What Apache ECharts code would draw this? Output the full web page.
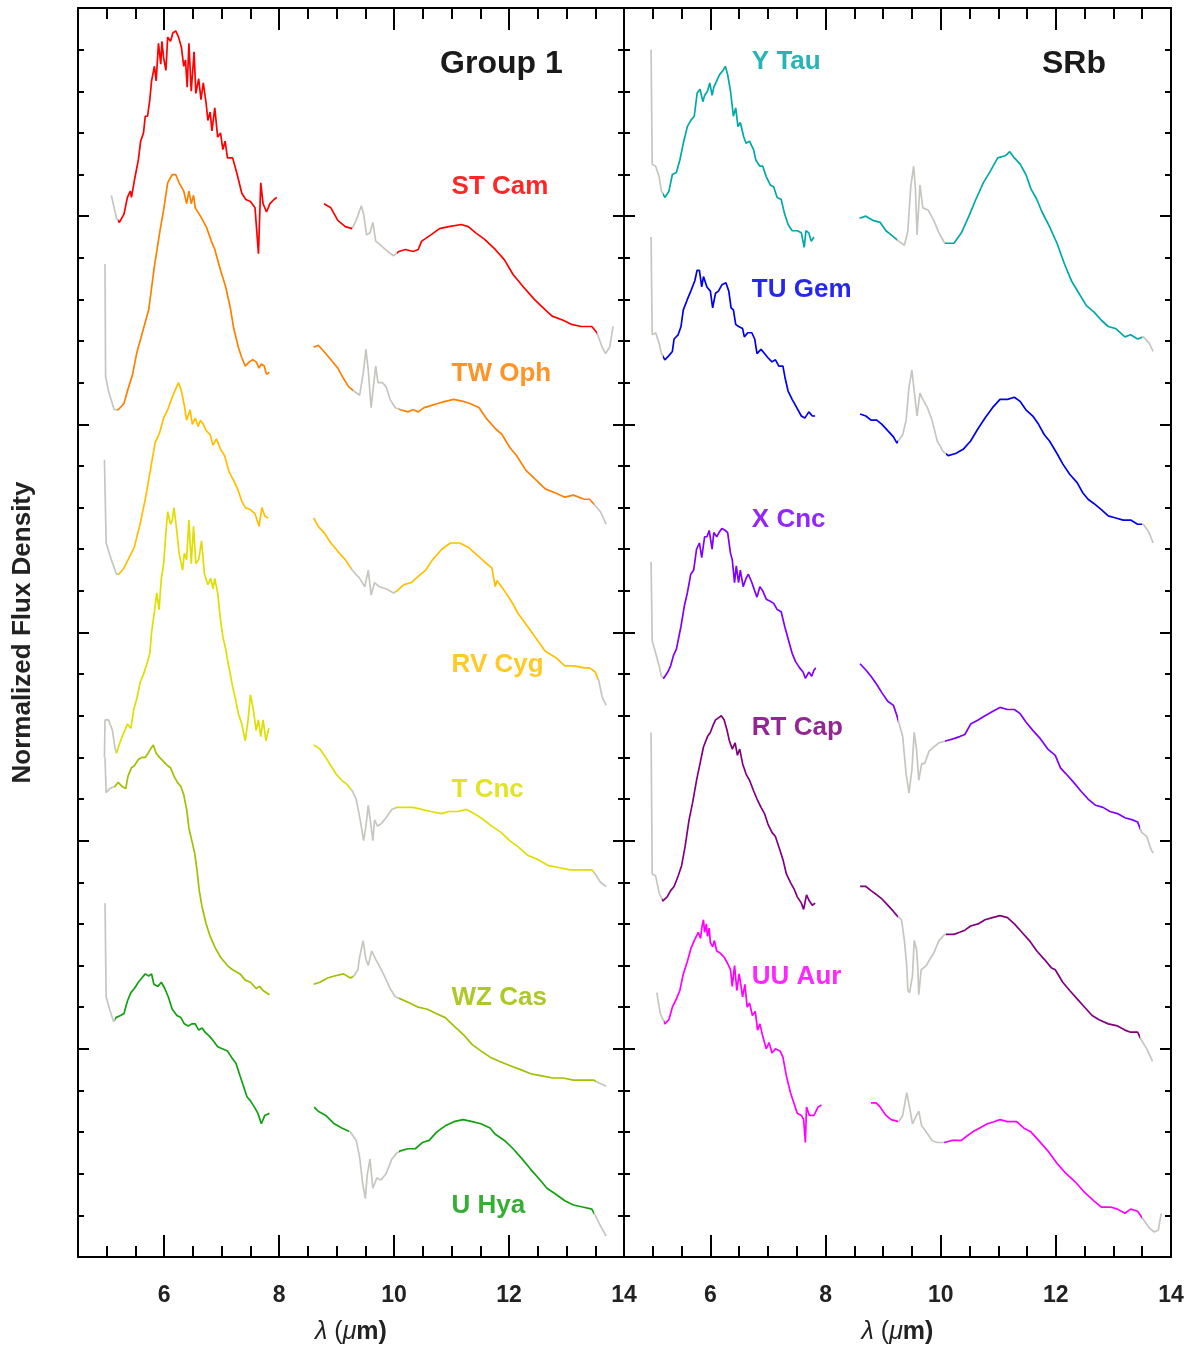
<!DOCTYPE html>
<html>
<head>
<meta charset="utf-8">
<title>Spectra Group 1 / SRb</title>
<script src="https://cdn.jsdelivr.net/npm/echarts@6/dist/echarts.min.js"></script>
<style>
  html, body { margin: 0; padding: 0; background: #fff; }
  #chart { width: 1192px; height: 1353px; }
</style>
</head>
<body>
<div id="chart"></div>
<script>
// wavelength (um), normalized flux (offset per star, 1 unit = 1 major tick)
const stCamShort = [[5.08,5.10],[5.17,4.99],[5.22,4.97],[5.30,5.01],[5.36,5.09],[5.41,5.12],[5.43,5.09],[5.48,5.17],[5.55,5.27],[5.59,5.36],[5.64,5.40],[5.67,5.48],[5.71,5.48],[5.75,5.56],[5.78,5.65],[5.83,5.72],[5.86,5.65],[5.90,5.83],[5.94,5.73],[5.96,5.84],[5.99,5.76],[6.03,5.70],[6.06,5.86],[6.11,5.84],[6.15,5.88],[6.20,5.89],[6.25,5.86],[6.30,5.81],[6.34,5.72],[6.37,5.75],[6.40,5.62],[6.43,5.83],[6.47,5.60],[6.52,5.79],[6.55,5.59],[6.60,5.66],[6.64,5.56],[6.68,5.64],[6.73,5.54],[6.76,5.46],[6.80,5.50],[6.83,5.41],[6.88,5.52],[6.93,5.38],[6.98,5.40],[7.02,5.32],[7.06,5.36],[7.10,5.28],[7.19,5.28],[7.27,5.20],[7.35,5.11],[7.42,5.08],[7.50,5.07],[7.58,5.04],[7.64,4.82],[7.68,5.16],[7.72,5.06],[7.78,5.02],[7.84,5.06],[7.91,5.08],[7.96,5.09]];
const stCamLong = [[8.78,5.06],[8.90,5.04],[9.02,4.98],[9.15,4.95],[9.27,4.94],[9.34,4.98],[9.43,5.05],[9.47,5.01],[9.52,4.91],[9.58,4.92],[9.63,4.97],[9.68,4.88],[9.77,4.86],[9.89,4.83],[9.99,4.81],[10.08,4.83],[10.20,4.84],[10.33,4.83],[10.42,4.84],[10.48,4.88],[10.64,4.91],[10.79,4.94],[10.95,4.95],[11.17,4.96],[11.29,4.95],[11.42,4.92],[11.57,4.89],[11.76,4.84],[11.92,4.79],[12.07,4.72],[12.25,4.66],[12.44,4.60],[12.63,4.55],[12.75,4.52],[12.94,4.50],[13.09,4.48],[13.25,4.47],[13.44,4.47],[13.53,4.44],[13.62,4.37],[13.68,4.34],[13.75,4.37],[13.81,4.47]];

const twOphShort = [[4.97,4.77],[4.98,4.23],[5.03,4.16],[5.13,4.07],[5.20,4.07],[5.30,4.10],[5.36,4.16],[5.45,4.24],[5.52,4.34],[5.58,4.40],[5.64,4.46],[5.73,4.55],[5.83,4.76],[5.92,4.92],[5.99,5.03],[6.06,5.16],[6.14,5.20],[6.20,5.20],[6.26,5.16],[6.34,5.12],[6.39,5.06],[6.43,5.12],[6.47,5.06],[6.51,5.10],[6.54,5.04],[6.63,5.00],[6.73,4.95],[6.82,4.88],[6.88,4.84],[6.98,4.74],[7.07,4.66],[7.15,4.56],[7.21,4.46],[7.29,4.37],[7.35,4.32],[7.41,4.28],[7.48,4.30],[7.54,4.31],[7.60,4.30],[7.65,4.27],[7.69,4.29],[7.74,4.28],[7.78,4.24],[7.83,4.25]];
const twOphLong = [[8.60,4.37],[8.68,4.38],[8.78,4.35],[8.90,4.31],[9.02,4.27],[9.12,4.22],[9.21,4.18],[9.30,4.16],[9.40,4.14],[9.46,4.24],[9.51,4.36],[9.55,4.26],[9.60,4.08],[9.68,4.28],[9.72,4.20],[9.80,4.20],[9.86,4.18],[9.93,4.12],[10.02,4.08],[10.11,4.07],[10.24,4.06],[10.33,4.07],[10.42,4.06],[10.52,4.08],[10.64,4.09],[10.76,4.10],[10.89,4.11],[11.04,4.12],[11.20,4.11],[11.32,4.10],[11.48,4.08],[11.60,4.03],[11.76,3.98],[11.88,3.95],[12.01,3.89],[12.13,3.85],[12.29,3.78],[12.44,3.74],[12.63,3.69],[12.81,3.67],[12.97,3.65],[13.12,3.66],[13.31,3.64],[13.40,3.64],[13.50,3.61],[13.59,3.58],[13.69,3.52]];

const rvCygShort = [[4.96,3.83],[4.99,3.43],[5.08,3.35],[5.17,3.28],[5.21,3.28],[5.30,3.31],[5.39,3.36],[5.48,3.41],[5.58,3.52],[5.67,3.64],[5.76,3.78],[5.84,3.91],[5.92,3.96],[5.99,4.03],[6.06,4.07],[6.14,4.13],[6.20,4.17],[6.25,4.20],[6.30,4.16],[6.35,4.09],[6.39,4.02],[6.45,4.07],[6.49,4.00],[6.54,4.03],[6.59,3.99],[6.63,4.02],[6.68,4.00],[6.73,3.97],[6.80,3.95],[6.85,3.90],[6.91,3.93],[6.98,3.88],[7.05,3.85],[7.13,3.77],[7.21,3.73],[7.29,3.68],[7.35,3.63],[7.41,3.60],[7.50,3.59],[7.58,3.57],[7.65,3.51],[7.70,3.60],[7.75,3.56],[7.81,3.55]];
const rvCygLong = [[8.60,3.55],[8.68,3.51],[8.78,3.48],[8.90,3.43],[9.02,3.39],[9.15,3.35],[9.27,3.30],[9.40,3.26],[9.49,3.22],[9.55,3.30],[9.60,3.18],[9.66,3.24],[9.74,3.22],[9.86,3.21],[9.99,3.19],[10.05,3.20],[10.17,3.23],[10.30,3.24],[10.42,3.27],[10.55,3.30],[10.67,3.35],[10.83,3.40],[10.98,3.43],[11.14,3.43],[11.29,3.41],[11.45,3.37],[11.57,3.34],[11.70,3.31],[11.76,3.22],[11.79,3.25],[11.92,3.20],[12.04,3.15],[12.16,3.09],[12.32,3.03],[12.50,2.96],[12.63,2.91],[12.81,2.88],[12.97,2.84],[13.12,2.84],[13.31,2.83],[13.40,2.83],[13.50,2.81],[13.56,2.77],[13.62,2.69],[13.69,2.65]];

const tCncShort = [[4.96,2.40],[4.97,2.58],[5.03,2.58],[5.10,2.53],[5.14,2.45],[5.17,2.42],[5.24,2.48],[5.30,2.52],[5.36,2.56],[5.42,2.54],[5.47,2.63],[5.53,2.69],[5.58,2.76],[5.64,2.80],[5.70,2.85],[5.75,2.90],[5.78,3.00],[5.83,3.10],[5.87,3.19],[5.91,3.11],[5.95,3.26],[5.99,3.33],[6.03,3.48],[6.06,3.58],[6.11,3.52],[6.14,3.54],[6.17,3.60],[6.21,3.51],[6.26,3.38],[6.32,3.30],[6.35,3.38],[6.39,3.35],[6.43,3.54],[6.47,3.33],[6.51,3.51],[6.55,3.33],[6.60,3.35],[6.65,3.44],[6.70,3.28],[6.76,3.23],[6.81,3.26],[6.85,3.21],[6.88,3.26],[6.93,3.19],[6.98,3.06],[7.02,2.98],[7.07,2.92],[7.10,2.87],[7.15,2.80],[7.19,2.74],[7.24,2.68],[7.29,2.61],[7.35,2.56],[7.41,2.48],[7.46,2.58],[7.50,2.70],[7.55,2.63],[7.60,2.53],[7.64,2.58],[7.68,2.50],[7.72,2.58],[7.77,2.48],[7.82,2.54]];
const tCncLong = [[8.60,2.46],[8.71,2.44],[8.81,2.40],[8.90,2.36],[8.99,2.32],[9.09,2.29],[9.18,2.27],[9.27,2.24],[9.34,2.20],[9.41,2.10],[9.47,2.00],[9.51,2.07],[9.55,2.17],[9.60,2.07],[9.63,2.00],[9.66,2.10],[9.71,2.07],[9.77,2.08],[9.86,2.11],[9.96,2.15],[10.05,2.16],[10.17,2.16],[10.33,2.16],[10.48,2.15],[10.64,2.14],[10.83,2.13],[10.95,2.14],[11.11,2.14],[11.26,2.15],[11.39,2.13],[11.51,2.11],[11.70,2.07],[11.86,2.04],[12.01,2.00],[12.16,1.97],[12.32,1.93],[12.50,1.91],[12.69,1.88],[12.88,1.87],[13.06,1.86],[13.25,1.86],[13.44,1.86],[13.50,1.84],[13.59,1.80],[13.69,1.78]];

const wzCasShort = [[4.97,2.40],[4.99,2.23],[5.05,2.25],[5.14,2.26],[5.20,2.28],[5.27,2.26],[5.33,2.25],[5.37,2.31],[5.43,2.35],[5.48,2.36],[5.55,2.39],[5.61,2.40],[5.67,2.40],[5.72,2.42],[5.76,2.44],[5.81,2.46],[5.86,2.42],[5.92,2.40],[5.99,2.38],[6.06,2.36],[6.11,2.35],[6.17,2.31],[6.23,2.28],[6.29,2.26],[6.34,2.22],[6.39,2.15],[6.43,2.06],[6.48,2.00],[6.53,1.94],[6.57,1.86],[6.61,1.76],[6.66,1.68],[6.73,1.60],[6.80,1.54],[6.88,1.49],[6.98,1.44],[7.10,1.40],[7.19,1.38],[7.32,1.36],[7.41,1.33],[7.50,1.32],[7.60,1.29],[7.66,1.30],[7.72,1.28],[7.83,1.26]];
const wzCasLong = [[8.60,1.31],[8.71,1.32],[8.84,1.34],[8.96,1.35],[9.12,1.36],[9.24,1.34],[9.30,1.35],[9.37,1.38],[9.40,1.44],[9.46,1.52],[9.51,1.43],[9.55,1.40],[9.61,1.47],[9.68,1.43],[9.74,1.40],[9.83,1.35],[9.93,1.29],[10.02,1.25],[10.11,1.24],[10.27,1.22],[10.42,1.20],[10.58,1.19],[10.73,1.17],[10.89,1.15],[11.04,1.11],[11.20,1.07],[11.36,1.02],[11.51,0.99],[11.67,0.96],[11.83,0.94],[12.01,0.92],[12.20,0.90],[12.38,0.88],[12.57,0.87],[12.76,0.86],[12.94,0.86],[13.12,0.85],[13.31,0.85],[13.47,0.85],[13.53,0.84],[13.62,0.83],[13.69,0.82]];

const uHyaShort = [[4.97,1.70],[4.99,1.25],[5.05,1.19],[5.12,1.13],[5.16,1.15],[5.24,1.16],[5.30,1.17],[5.36,1.23],[5.42,1.27],[5.48,1.29],[5.55,1.32],[5.61,1.34],[5.67,1.36],[5.73,1.35],[5.78,1.36],[5.82,1.31],[5.89,1.30],[5.95,1.32],[6.01,1.29],[6.07,1.25],[6.14,1.19],[6.22,1.16],[6.29,1.15],[6.35,1.12],[6.42,1.11],[6.48,1.12],[6.54,1.12],[6.60,1.09],[6.66,1.10],[6.71,1.08],[6.79,1.06],[6.85,1.04],[6.93,1.01],[7.01,1.00],[7.10,0.99],[7.17,0.96],[7.25,0.93],[7.32,0.87],[7.38,0.82],[7.44,0.77],[7.50,0.75],[7.57,0.72],[7.63,0.69],[7.69,0.64],[7.75,0.68],[7.83,0.69]];
const uHyaLong = [[8.61,0.72],[8.68,0.70],[8.81,0.68],[8.96,0.64],[9.09,0.62],[9.24,0.60],[9.34,0.56],[9.40,0.48],[9.45,0.36],[9.50,0.28],[9.53,0.39],[9.58,0.47],[9.63,0.33],[9.70,0.38],[9.77,0.37],[9.86,0.40],[9.96,0.47],[10.05,0.50],[10.11,0.51],[10.24,0.52],[10.37,0.52],[10.49,0.55],[10.61,0.56],[10.74,0.60],[10.89,0.63],[11.04,0.65],[11.20,0.66],[11.36,0.65],[11.51,0.64],[11.67,0.62],[11.76,0.59],[11.92,0.56],[12.07,0.52],[12.23,0.47],[12.38,0.42],[12.54,0.37],[12.66,0.33],[12.82,0.30],[12.97,0.27],[13.12,0.25],[13.28,0.24],[13.44,0.23],[13.50,0.20],[13.59,0.15],[13.69,0.10]];

const yTauShort = [[4.97,5.80],[4.99,5.25],[5.05,5.24],[5.11,5.19],[5.15,5.12],[5.21,5.09],[5.28,5.12],[5.34,5.20],[5.41,5.21],[5.47,5.27],[5.53,5.35],[5.60,5.43],[5.66,5.46],[5.72,5.48],[5.77,5.59],[5.82,5.61],[5.87,5.55],[5.90,5.58],[5.95,5.60],[5.99,5.64],[6.03,5.58],[6.06,5.62],[6.11,5.65],[6.16,5.68],[6.22,5.70],[6.26,5.72],[6.30,5.68],[6.35,5.60],[6.40,5.48],[6.44,5.52],[6.48,5.43],[6.52,5.45],[6.58,5.38],[6.62,5.35],[6.68,5.36],[6.75,5.32],[6.79,5.27],[6.86,5.24],[6.91,5.24],[6.97,5.19],[7.04,5.15],[7.10,5.14],[7.16,5.09],[7.23,5.08],[7.29,5.01],[7.35,4.96],[7.42,4.93],[7.51,4.93],[7.58,4.92],[7.63,4.85],[7.66,4.93],[7.71,4.92],[7.75,4.88],[7.80,4.90]];
const yTauLong = [[8.59,4.99],[8.70,5.00],[8.82,4.98],[8.95,4.97],[9.05,4.93],[9.14,4.91],[9.27,4.88],[9.37,4.86],[9.43,4.93],[9.48,5.14],[9.53,5.24],[9.56,5.14],[9.59,4.91],[9.64,5.15],[9.69,5.04],[9.78,5.03],[9.88,4.98],[9.97,4.92],[10.07,4.87],[10.23,4.87],[10.36,4.92],[10.49,5.00],[10.61,5.08],[10.74,5.16],[10.87,5.22],[10.99,5.28],[11.12,5.29],[11.20,5.31],[11.28,5.28],[11.38,5.25],[11.48,5.20],[11.57,5.13],[11.67,5.08],[11.76,5.02],[11.89,4.95],[12.02,4.87],[12.15,4.77],[12.27,4.69],[12.40,4.63],[12.53,4.57],[12.66,4.54],[12.79,4.50],[12.91,4.47],[13.04,4.46],[13.20,4.42],[13.30,4.43],[13.42,4.41],[13.52,4.42],[13.62,4.39],[13.69,4.35]];

const tuGemShort = [[4.97,4.90],[4.99,4.43],[5.05,4.44],[5.11,4.39],[5.15,4.34],[5.21,4.31],[5.28,4.33],[5.34,4.35],[5.37,4.41],[5.44,4.43],[5.49,4.47],[5.53,4.55],[5.60,4.60],[5.66,4.64],[5.73,4.69],[5.77,4.74],[5.81,4.74],[5.85,4.66],[5.88,4.71],[5.94,4.66],[6.00,4.64],[6.04,4.56],[6.09,4.63],[6.14,4.64],[6.20,4.67],[6.27,4.68],[6.32,4.64],[6.36,4.56],[6.40,4.55],[6.44,4.48],[6.49,4.47],[6.56,4.46],[6.59,4.42],[6.65,4.44],[6.72,4.44],[6.77,4.41],[6.81,4.34],[6.88,4.36],[6.94,4.34],[7.00,4.32],[7.07,4.30],[7.13,4.31],[7.19,4.28],[7.26,4.28],[7.30,4.22],[7.35,4.16],[7.42,4.12],[7.50,4.08],[7.58,4.04],[7.64,4.03],[7.71,4.06],[7.77,4.04],[7.82,4.04]];
const tuGemLong = [[8.60,4.05],[8.70,4.04],[8.79,4.02],[8.89,4.02],[8.98,4.00],[9.08,3.97],[9.18,3.94],[9.24,3.91],[9.34,3.95],[9.40,4.02],[9.45,4.18],[9.50,4.26],[9.54,4.16],[9.59,4.04],[9.64,4.15],[9.69,4.12],[9.77,4.08],[9.85,4.02],[9.94,3.92],[10.04,3.87],[10.13,3.85],[10.26,3.86],[10.39,3.88],[10.52,3.92],[10.65,3.98],[10.77,4.03],[10.90,4.08],[11.03,4.12],[11.16,4.12],[11.28,4.13],[11.38,4.11],[11.48,4.07],[11.60,4.04],[11.70,4.00],[11.80,3.95],[11.89,3.92],[12.02,3.86],[12.12,3.81],[12.24,3.76],[12.37,3.72],[12.47,3.67],[12.56,3.64],[12.66,3.62],[12.79,3.59],[12.91,3.56],[13.04,3.55],[13.17,3.54],[13.30,3.54],[13.42,3.52],[13.52,3.52],[13.62,3.48],[13.69,3.43]];

const xCncShort = [[4.97,3.34],[4.99,2.96],[5.05,2.90],[5.11,2.84],[5.15,2.79],[5.19,2.78],[5.26,2.81],[5.31,2.84],[5.36,2.89],[5.41,2.92],[5.49,3.03],[5.55,3.13],[5.60,3.19],[5.66,3.28],[5.71,3.30],[5.76,3.40],[5.81,3.43],[5.85,3.36],[5.90,3.46],[5.94,3.46],[5.98,3.49],[6.03,3.40],[6.06,3.48],[6.11,3.46],[6.15,3.48],[6.20,3.50],[6.26,3.49],[6.30,3.48],[6.35,3.38],[6.38,3.35],[6.42,3.24],[6.45,3.32],[6.49,3.24],[6.52,3.30],[6.57,3.22],[6.62,3.26],[6.66,3.28],[6.72,3.24],[6.77,3.20],[6.81,3.17],[6.86,3.22],[6.91,3.20],[6.97,3.16],[7.04,3.15],[7.10,3.14],[7.16,3.11],[7.23,3.10],[7.29,3.03],[7.35,2.97],[7.42,2.90],[7.48,2.86],[7.55,2.83],[7.61,2.81],[7.65,2.78],[7.71,2.81],[7.76,2.79],[7.80,2.82],[7.83,2.83]];
const xCncLong = [[8.60,2.85],[8.70,2.82],[8.79,2.79],[8.89,2.75],[8.98,2.71],[9.08,2.67],[9.18,2.65],[9.24,2.60],[9.34,2.50],[9.40,2.32],[9.45,2.23],[9.50,2.34],[9.54,2.52],[9.58,2.44],[9.62,2.29],[9.67,2.37],[9.72,2.37],[9.80,2.43],[9.88,2.45],[9.97,2.47],[10.10,2.48],[10.23,2.49],[10.33,2.50],[10.42,2.51],[10.52,2.56],[10.65,2.58],[10.77,2.60],[10.90,2.62],[11.03,2.64],[11.16,2.63],[11.28,2.63],[11.38,2.61],[11.48,2.57],[11.60,2.53],[11.73,2.49],[11.86,2.44],[11.99,2.41],[12.08,2.35],[12.18,2.32],[12.31,2.28],[12.43,2.24],[12.56,2.20],[12.69,2.17],[12.82,2.16],[12.94,2.14],[13.07,2.13],[13.20,2.11],[13.33,2.10],[13.42,2.09],[13.49,2.04],[13.58,2.02],[13.65,1.96],[13.69,1.94]];

const rtCapShort = [[4.97,2.52],[4.99,1.84],[5.05,1.83],[5.11,1.75],[5.17,1.71],[5.25,1.73],[5.31,1.76],[5.37,1.78],[5.44,1.83],[5.50,1.88],[5.56,1.97],[5.63,2.10],[5.69,2.18],[5.76,2.29],[5.82,2.37],[5.88,2.45],[5.95,2.50],[6.00,2.52],[6.04,2.55],[6.09,2.58],[6.14,2.59],[6.19,2.60],[6.24,2.58],[6.29,2.53],[6.33,2.48],[6.38,2.44],[6.43,2.47],[6.47,2.41],[6.51,2.44],[6.56,2.37],[6.62,2.32],[6.68,2.29],[6.75,2.24],[6.81,2.20],[6.88,2.16],[6.94,2.13],[7.00,2.08],[7.07,2.04],[7.13,2.02],[7.19,1.97],[7.26,1.91],[7.32,1.84],[7.39,1.80],[7.45,1.77],[7.51,1.73],[7.58,1.70],[7.62,1.67],[7.67,1.74],[7.72,1.71],[7.77,1.69],[7.82,1.70]];
const rtCapLong = [[8.60,1.78],[8.70,1.78],[8.79,1.76],[8.89,1.74],[8.98,1.72],[9.08,1.69],[9.18,1.66],[9.24,1.64],[9.32,1.62],[9.37,1.52],[9.41,1.40],[9.43,1.28],[9.46,1.27],[9.51,1.35],[9.54,1.52],[9.58,1.48],[9.60,1.40],[9.62,1.26],[9.66,1.38],[9.75,1.40],[9.81,1.43],[9.88,1.46],[9.97,1.52],[10.07,1.55],[10.13,1.55],[10.23,1.55],[10.33,1.56],[10.42,1.57],[10.52,1.59],[10.65,1.60],[10.77,1.62],[10.90,1.63],[11.03,1.64],[11.16,1.63],[11.28,1.60],[11.41,1.56],[11.54,1.52],[11.67,1.47],[11.80,1.43],[11.92,1.39],[11.99,1.38],[12.12,1.32],[12.24,1.28],[12.37,1.24],[12.50,1.20],[12.63,1.16],[12.75,1.14],[12.91,1.12],[13.07,1.11],[13.20,1.09],[13.30,1.08],[13.42,1.08],[13.49,1.04],[13.58,1.00],[13.68,0.94]];

const uuAurShort = [[5.07,1.27],[5.13,1.17],[5.21,1.12],[5.28,1.14],[5.34,1.20],[5.41,1.24],[5.47,1.28],[5.53,1.36],[5.60,1.42],[5.66,1.48],[5.72,1.52],[5.79,1.56],[5.83,1.53],[5.85,1.58],[5.88,1.62],[5.90,1.56],[5.93,1.60],[5.95,1.54],[5.98,1.58],[6.00,1.51],[6.04,1.49],[6.07,1.52],[6.11,1.47],[6.17,1.46],[6.24,1.44],[6.30,1.41],[6.35,1.38],[6.38,1.30],[6.42,1.40],[6.46,1.28],[6.50,1.36],[6.56,1.25],[6.60,1.31],[6.64,1.20],[6.68,1.22],[6.73,1.16],[6.78,1.18],[6.82,1.09],[6.86,1.12],[6.91,1.06],[6.97,1.00],[7.02,1.03],[7.07,0.98],[7.13,1.00],[7.21,0.99],[7.26,0.96],[7.32,0.87],[7.39,0.79],[7.45,0.74],[7.51,0.69],[7.58,0.68],[7.62,0.66],[7.65,0.55],[7.67,0.72],[7.72,0.68],[7.80,0.68],[7.87,0.72],[7.93,0.73]];
const uuAurLong = [[8.79,0.74],[8.88,0.74],[8.95,0.72],[9.05,0.68],[9.14,0.66],[9.27,0.65],[9.34,0.68],[9.41,0.79],[9.46,0.72],[9.51,0.64],[9.58,0.68],[9.62,0.70],[9.67,0.63],[9.75,0.60],[9.85,0.56],[9.94,0.55],[10.07,0.55],[10.20,0.56],[10.36,0.56],[10.45,0.58],[10.55,0.60],[10.68,0.62],[10.81,0.64],[10.93,0.65],[11.03,0.66],[11.16,0.65],[11.32,0.65],[11.44,0.62],[11.57,0.60],[11.70,0.56],[11.86,0.51],[12.02,0.45],[12.18,0.40],[12.34,0.36],[12.50,0.31],[12.66,0.27],[12.79,0.24],[12.95,0.24],[13.07,0.23],[13.20,0.21],[13.30,0.23],[13.42,0.22],[13.52,0.18],[13.62,0.14],[13.71,0.12],[13.78,0.13],[13.83,0.21]];

const starNames = ['ST Cam', 'TW Oph', 'RV Cyg', 'T Cnc', 'WZ Cas', 'U Hya',
                   'Y Tau', 'TU Gem', 'X Cnc', 'RT Cap', 'UU Aur'];
const starColors = ['#ff0000', '#ff8000', '#ffbf00', '#dede00', '#a0c000', '#10a010',
                    '#00a8a8', '#0000ee', '#8000ff', '#800080', '#ff00ff'];
const starPanel = [0, 0, 0, 0, 0, 0, 1, 1, 1, 1, 1];
const spectra = [
  [stCamShort, stCamLong], [twOphShort, twOphLong], [rvCygShort, rvCygLong],
  [tCncShort, tCncLong], [wzCasShort, wzCasLong], [uHyaShort, uHyaLong],
  [yTauShort, yTauLong], [tuGemShort, tuGemLong], [xCncShort, xCncLong],
  [rtCapShort, rtCapLong], [uuAurShort, uuAurLong]
];
// wavelength ranges drawn in grey: end of blue edge, feature band, start of red edge
const greyRanges = [
  [5.20, 9.27, 10.05, 13.53], [5.17, 9.28, 10.08, 13.48], [5.20, 9.25, 10.02, 13.54],
  [5.16, 9.25, 10.03, 13.48], [5.13, 9.28, 10.08, 13.52], [5.14, 9.22, 10.08, 13.48],
  [5.18, 9.25, 10.08, 13.50], [5.18, 9.26, 10.10, 13.50], [5.18, 9.26, 10.08, 13.47],
  [5.16, 9.26, 10.10, 13.47], [5.19, 9.26, 10.06, 13.50]
];
// label anchors (left edge, vertical middle) in data units
const labelAnchors = [[11.0, 5.14], [11.0, 4.245], [11.0, 2.845], [11.0, 2.245], [11.0, 1.245], [11.0, 0.245],
                      [6.72, 5.74], [6.72, 4.645], [6.72, 3.54], [6.72, 2.54], [6.72, 1.345]];
const panelTitles = ['Group 1', 'SRb'];
const titleAnchors = [[10.80, 5.73], [11.76, 5.73]];

const majorTicks = [6, 8, 10, 12, 14];
const minorTicks = [5, 5.5, 6.5, 7, 7.5, 8.5, 9, 9.5, 10.5, 11, 11.5, 12.5, 13, 13.5];

const FONT = '"Liberation Sans", Arial, Helvetica, sans-serif';
const GREY = '#c6c6c0';

const chart = echarts.init(document.getElementById('chart'));

const grids = [
  { left: 78, top: 8, width: 546, height: 1249 },
  { left: 624, top: 8, width: 547, height: 1249 }
];

const xAxes = [];
const yAxes = [];
grids.forEach((g, p) => {
  const base = { gridIndex: p, type: 'value', min: 4.5, max: 14, splitLine: { show: false } };
  xAxes.push(Object.assign({}, base, {
    position: 'bottom',
    axisLine: { show: true, lineStyle: { color: '#000', width: 2 } },
    axisTick: { show: true, inside: true, length: 22, customValues: majorTicks, lineStyle: { color: '#000', width: 2 } },
    axisLabel: { show: true, customValues: majorTicks, margin: 27, fontSize: 23, fontWeight: 'bold',
                 color: '#222', fontFamily: FONT, hideOverlap: false },
    name: '{i|λ}{n| (}{i|μ}{b|m)}',
    nameLocation: 'middle',
    nameGap: 63,
    nameTextStyle: {
      rich: {
        i: { fontStyle: 'italic', fontSize: 25, color: '#222', fontFamily: FONT },
        n: { fontSize: 25, color: '#222', fontFamily: FONT },
        b: { fontWeight: 'bold', fontSize: 25, color: '#222', fontFamily: FONT }
      }
    }
  }));
  xAxes.push(Object.assign({}, base, {
    position: 'bottom',
    axisLine: { show: false },
    axisTick: { show: true, inside: true, length: 11, customValues: minorTicks, lineStyle: { color: '#000', width: 2 } },
    axisLabel: { show: false }
  }));
  xAxes.push(Object.assign({}, base, {
    position: 'top',
    axisLine: { show: true, lineStyle: { color: '#000', width: 2 } },
    axisTick: { show: true, inside: true, length: 22, customValues: majorTicks, lineStyle: { color: '#000', width: 2 } },
    axisLabel: { show: false }
  }));
  xAxes.push(Object.assign({}, base, {
    position: 'top',
    axisLine: { show: false },
    axisTick: { show: true, inside: true, length: 11, customValues: minorTicks, lineStyle: { color: '#000', width: 2 } },
    axisLabel: { show: false }
  }));
  ['left', 'right'].forEach((pos) => {
    const y = {
      gridIndex: p, type: 'value', min: 0, max: 6, interval: 1, position: pos,
      axisLine: { show: true, lineStyle: { color: '#000', width: 2 } },
      axisTick: { show: true, inside: true, length: 11, lineStyle: { color: '#000', width: 2 } },
      minorTick: { show: true, splitNumber: 5, length: 6, lineStyle: { color: '#000', width: 2 } },
      axisLabel: { show: false },
      splitLine: { show: false }
    };
    if (p === 0 && pos === 'left') {
      y.name = 'Normalized Flux Density';
      y.nameLocation = 'middle';
      y.nameGap = 42;
      y.nameTextStyle = { fontSize: 26, fontWeight: 'bold', color: '#222', fontFamily: FONT };
    }
    yAxes.push(y);
  });
});

const lineSeries = spectra.map((seg, i) => ({
  name: starNames[i],
  type: 'line',
  xAxisIndex: starPanel[i] * 4,
  yAxisIndex: starPanel[i] * 2,
  data: seg[0].concat([[8.3, null]], seg[1]),
  symbol: 'none',
  connectNulls: false,
  color: starColors[i],
  lineStyle: { width: 1.7 },
  silent: true,
  z: 3
}));

const labelSeries = [0, 1].map((p) => {
  const data = [];
  starNames.forEach((n, i) => {
    if (starPanel[i] !== p) return;
    data.push({ value: labelAnchors[i], name: n,
                label: { color: starColors[i], fontSize: 26, opacity: 0.85 } });
  });
  data.push({ value: titleAnchors[p], name: panelTitles[p],
              label: { color: '#1a1a1a', fontSize: 32, opacity: 1 } });
  return {
    type: 'scatter',
    xAxisIndex: p * 4,
    yAxisIndex: p * 2,
    symbolSize: 0,
    silent: true,
    itemStyle: { opacity: 1 },
    data: data,
    label: { show: true, position: 'right', distance: 0, formatter: '{b}',
             fontWeight: 'bold', fontFamily: FONT },
    z: 5
  };
});

const visualMaps = greyRanges.map((g, i) => ({
  type: 'piecewise',
  show: false,
  dimension: 0,
  seriesIndex: i,
  pieces: [
    { lt: g[0], color: GREY },
    { gte: g[1], lte: g[2], color: GREY },
    { gt: g[3], color: GREY }
  ],
  outOfRange: { color: starColors[i] }
}));

chart.setOption({
  animation: false,
  backgroundColor: '#fff',
  textStyle: { fontFamily: FONT },
  grid: grids,
  xAxis: xAxes,
  yAxis: yAxes,
  visualMap: visualMaps,
  series: lineSeries.concat(labelSeries)
});
</script>
</body>
</html>
